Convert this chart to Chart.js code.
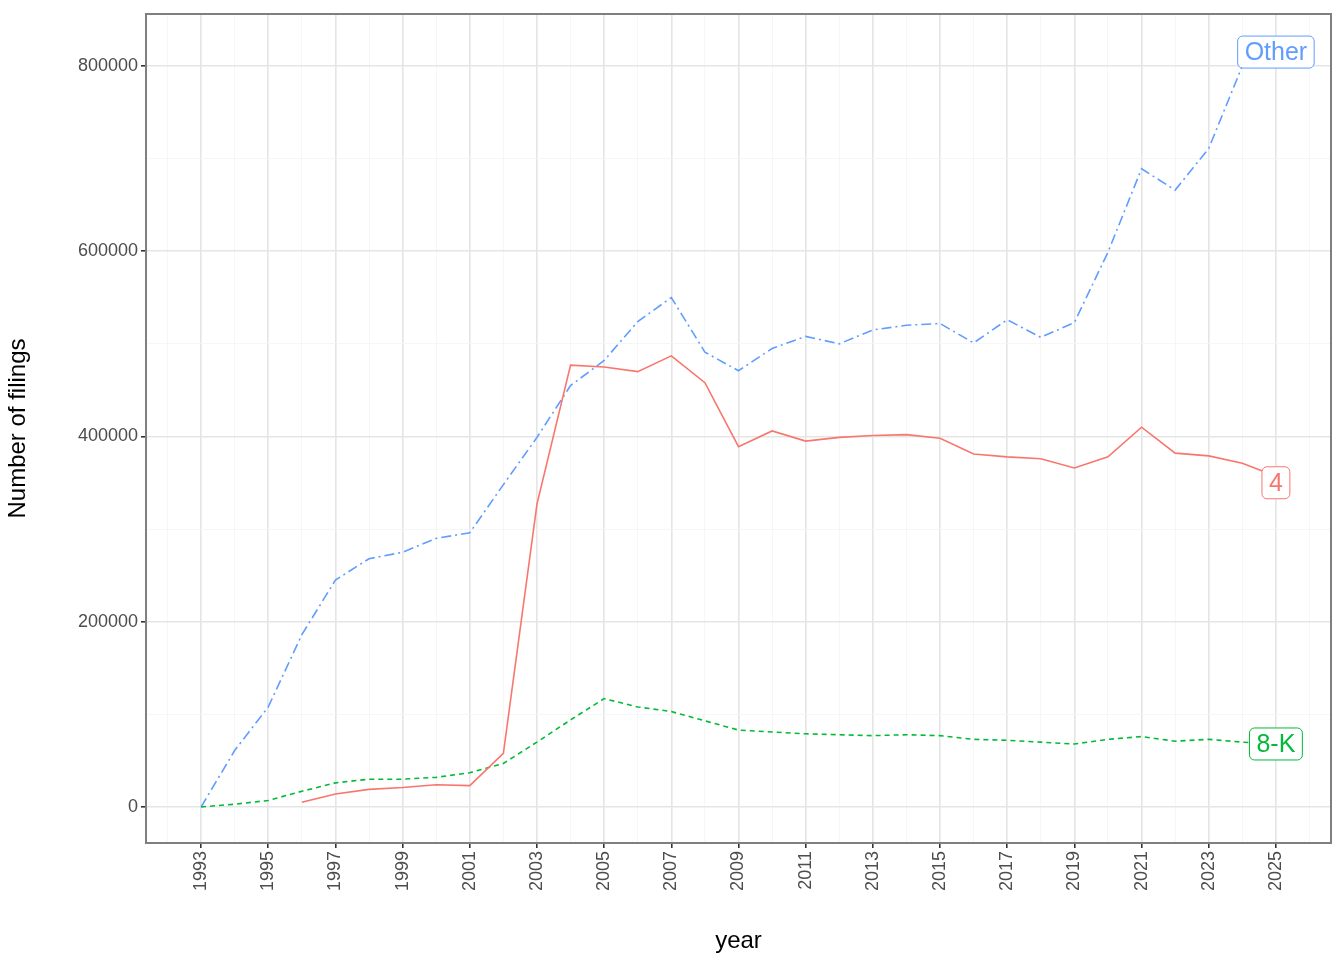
<!DOCTYPE html>
<html><head><meta charset="utf-8">
<script src="https://cdn.jsdelivr.net/npm/chart.js@4"></script>
<style>html,body{margin:0;padding:0;background:#fff}#w{width:1344px;height:960px}</style>
</head><body><div id="w"><canvas id="c"></canvas></div>
<script>
const years = Array.from({length:33},(_,i)=>1993+i);
const otherVals = [0,61000,108000,186000,245000,268000,275000,290000,296000,348000,399000,455000,482000,524000,550000,491000,471000,495000,508000,500000,515000,520000,522000,501000,526000,507000,523000,599000,689000,666000,711000,800000,null];
const form4Vals = [null,null,null,5000,14000,19000,21000,24000,23000,58000,327000,477000,475000,470000,487000,458000,389000,406000,395000,399000,401000,402000,398000,381000,378000,376000,366000,378000,410000,382000,379000,371000,357000];
const eightKVals = [0,3000,7000,17000,26000,30000,30000,32000,37000,47000,70000,94000,117000,108000,103000,93000,83000,81000,79000,78000,77000,78000,77000,73000,72000,70000,68000,73000,76000,71000,73000,70000,68000];
const colors = {"4":"#F8766D","8-K":"#00BA38","Other":"#619CFF"};
const pts = v => years.map((y,i)=>({x:y,y:v[i]}));
const FF='"Liberation Sans", Arial';

const labelPlugin = {id:'lbl', afterDatasetsDraw(ch){
  const c=ch.ctx; c.save(); c.font='25px '+FF; c.textBaseline='middle'; c.textAlign='center';
  const items=[["Other",2025,815000],["4",2025,350000],["8-K",2025,68000]];
  for(const [t,x,y] of items){
    const px=ch.scales.x.getPixelForValue(x), py=ch.scales.y.getPixelForValue(y);
    const w=c.measureText(t).width+14, h=32;
    c.fillStyle='#fff'; c.strokeStyle=colors[t]; c.lineWidth=1;
    c.beginPath(); c.roundRect(px-w/2,py-h/2,w,h,5); c.fill(); c.stroke();
    c.fillStyle=colors[t]; c.fillText(t,px,py+1);
  }
  const a=ch.chartArea; c.strokeStyle='#7f7f7f'; c.lineWidth=2; c.strokeRect(a.left,a.top,a.right-a.left,a.bottom-a.top);
  c.restore();
}};

new Chart(document.getElementById('c'),{
  type:'line',
  data:{datasets:[
    {label:'4',data:pts(form4Vals),borderColor:colors['4'],borderWidth:1.6,pointRadius:0},
    {label:'8-K',data:pts(eightKVals),borderColor:colors['8-K'],borderWidth:1.6,borderDash:[5,4],pointRadius:0},
    {label:'Other',data:pts(otherVals),borderColor:colors['Other'],borderWidth:1.6,borderDash:[10,4,2,4],pointRadius:0}
  ]},
  options:{responsive:true,maintainAspectRatio:false,animation:false,
    layout:{padding:{top:14,right:13,left:0,bottom:0}},
    plugins:{legend:{display:false},tooltip:{enabled:false}},
    scales:{
      x:{type:'linear',min:1991.36,max:2026.64,
        afterFit:s=>{s.height=117;},
        afterBuildTicks:s=>{s.ticks=[];for(let y=1992;y<=2026;y++)s.ticks.push({value:y});},
        ticks:{autoSkip:false,maxRotation:90,minRotation:90,color:'#4d4d4d',font:{size:18,family:FF},
          callback:v=>(v%2===1?String(v):'')},
        grid:{color:c=>(c.tick&&c.tick.value%2===1)?'#e5e5e5':'#f4f4f4',lineWidth:c=>(c.tick&&c.tick.value%2===1)?1.6:0.8,tickColor:c=>(c.tick&&c.tick.value%2===1)?'#333':'rgba(0,0,0,0)',tickLength:5},
        border:{display:false},
        title:{display:true,text:'year',color:'#000',font:{size:24,family:FF},padding:{top:4}}},
      y:{min:-38900,max:856100,
        afterFit:s=>{s.width=146;},
        afterBuildTicks:s=>{s.ticks=[];for(let v=0;v<=800000;v+=100000)s.ticks.push({value:v});},
        ticks:{color:'#4d4d4d',font:{size:18,family:FF},callback:v=>(v%200000===0?String(v):'')},
        grid:{color:c=>(c.tick&&c.tick.value%200000===0)?'#e5e5e5':'#f4f4f4',lineWidth:c=>(c.tick&&c.tick.value%200000===0)?1.6:0.8,tickColor:c=>(c.tick&&c.tick.value%200000===0)?'#333':'rgba(0,0,0,0)',tickLength:5},
        border:{display:false},
        title:{display:true,text:'Number of filings',color:'#000',font:{size:24,family:FF},padding:{bottom:10}}}
    }},
  plugins:[labelPlugin]
});
</script></body></html>
